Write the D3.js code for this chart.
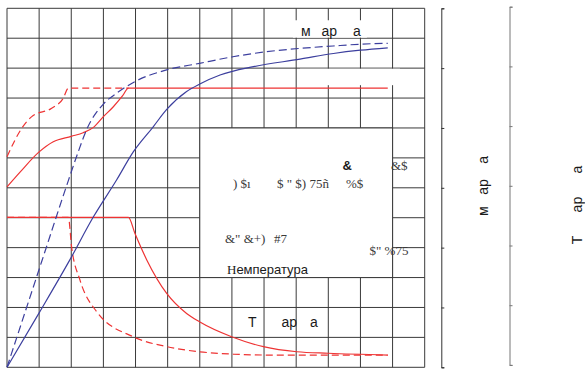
<!DOCTYPE html>
<html>
<head>
<meta charset="utf-8">
<script src="https://cdn.jsdelivr.net/npm/d3@7"></script>
<style>
  body { margin: 0; background: #fff; }
  svg { display: block; }
  text { white-space: pre; }
</style>
</head>
<body>
<div id="chart"></div>
<script>
const svgWidth = 585;
const svgHeight = 369;

// grid: 13 columns x 12 rows, values given in grid units (col, row from bottom)
const colCount = 13;
const rowCount = 12;

const redUpper = [[0, 6.03], [0.42, 6.54], [1.0, 7.2], [1.44, 7.54], [2.0, 7.72], [2.37, 7.84],
  [2.69, 8.02], [3.0, 8.38], [3.31, 8.71], [3.6, 9.08], [3.78, 9.33], [11.85, 9.33]];
const redUpperDash = [[0, 7.04], [0.46, 7.99], [0.77, 8.38], [1.39, 8.66], [1.75, 8.99], [1.91, 9.33], [3.78, 9.33]];
const blueDash = [[0, 0], [1.09, 3.57], [1.84, 6.02], [2.2, 7.15], [2.48, 7.95], [3.0, 8.8], [3.41, 9.16],
  [3.98, 9.55], [4.97, 9.94], [5.99, 10.16], [7.03, 10.38], [8.08, 10.55], [9.12, 10.66], [10.15, 10.74],
  [10.99, 10.8], [11.85, 10.83]];
const blueSolid = [[0, 0], [1, 1.82], [1.96, 3.6], [2.69, 5.03], [3.41, 6.26], [3.93, 7.2], [4.55, 8.04],
  [4.97, 8.62], [5.59, 9.22], [6, 9.47], [6.63, 9.77], [7.67, 10.05], [9.12, 10.3], [10.16, 10.49],
  [11, 10.6], [11.85, 10.68]];
const redLower = [[0, 5.01], [3.78, 5.01], [3.98, 4.48], [4.35, 3.59], [4.97, 2.47], [5.59, 1.8],
  [5.99, 1.52], [6.99, 1.02], [7.98, 0.69], [9.02, 0.52], [10.0, 0.47], [11.85, 0.41]];
const redLowerDash = [[0, 5.01], [1.91, 5.01], [2.01, 4.03], [2.27, 2.92], [2.79, 1.86], [3.93, 1.02],
  [4.97, 0.69], [5.99, 0.52], [7.04, 0.44], [8.08, 0.41], [11.85, 0.41]];

// right axes, 6 steps each, no tick labels
const axisSteps = 6;

const red = "#ee3333";
const blue = "#3c3f9e";
const gridColor = "#3a3a3a";

const svg = d3.select("#chart")
  .append("svg")
  .attr("width", svgWidth)
  .attr("height", svgHeight);

svg.append("rect").attr("width", svgWidth).attr("height", svgHeight).attr("fill", "#fff");

const x = d3.scaleLinear().domain([0, colCount]).range([7, 424.7]);
const y = d3.scaleLinear().domain([0, rowCount]).range([367.3, 8.3]);

// grid
svg.append("g")
  .selectAll("line")
  .data(d3.range(colCount + 1))
  .join("line")
  .attr("x1", d => x(d)).attr("x2", d => x(d))
  .attr("y1", y(0)).attr("y2", y(rowCount))
  .attr("stroke", gridColor).attr("stroke-width", 1);

svg.append("g")
  .selectAll("line")
  .data(d3.range(rowCount + 1))
  .join("line")
  .attr("x1", x(0)).attr("x2", x(colCount))
  .attr("y1", d => y(d)).attr("y2", d => y(d))
  .attr("stroke", gridColor).attr("stroke-width", 1);

// blank box in the middle (legend area) and hidden-label patches
svg.append("rect")
  .attr("x", x(6)).attr("y", y(8))
  .attr("width", x(12) - x(6)).attr("height", y(3) - y(8))
  .attr("fill", "#fff").attr("stroke", gridColor).attr("stroke-width", 1);

svg.append("rect")
  .attr("x", x(8.9)).attr("y", y(11.6))
  .attr("width", x(11.2) - x(8.9)).attr("height", y(11.02) - y(11.6))
  .attr("fill", "#fff");
svg.append("rect")
  .attr("x", x(9.12)).attr("y", y(9.98))
  .attr("width", x(12.23) - x(9.12)).attr("height", y(9.43) - y(9.98))
  .attr("fill", "#fff");

// curves
const line = d3.line()
  .x(d => x(d[0]))
  .y(d => y(d[1]))
  .curve(d3.curveMonotoneX);

const series = [
  {data: redLowerDash, color: red, dash: "7,4"},
  {data: redLower, color: red, dash: null},
  {data: redUpperDash, color: red, dash: "7,4"},
  {data: redUpper, color: red, dash: null},
  {data: blueDash, color: blue, dash: "8,4"},
  {data: blueSolid, color: blue, dash: null}
];

svg.append("g")
  .selectAll("path")
  .data(series)
  .join("path")
  .attr("d", d => line(d.data))
  .attr("fill", "none")
  .attr("stroke", d => d.color)
  .attr("stroke-width", 1.2)
  .attr("stroke-dasharray", d => d.dash);

// right axes
const y1 = d3.scaleLinear().domain([0, axisSteps]).range([367.3, 8.3]);
const y2 = d3.scaleLinear().domain([0, axisSteps]).range([364.9, 6.7]);

const ax1 = svg.append("g")
  .attr("transform", "translate(441.3,0)")
  .call(d3.axisRight(y1).ticks(axisSteps).tickSize(3).tickSizeOuter(3).tickFormat(""));
ax1.selectAll("path, line").attr("stroke", "#333");

const ax2 = svg.append("g")
  .attr("transform", "translate(509.5,0)")
  .call(d3.axisRight(y2).ticks(axisSteps).tickSize(3).tickSizeOuter(3).tickFormat(""));
ax2.selectAll("path, line").attr("stroke", "#777");

// texts (garbled glyphs kept as in the source)
const sans = "Liberation Sans, Arial, sans-serif";
const serif = "Liberation Serif, Times New Roman, serif";

const notes = [
  {t: "м", x: 301, y: 35.5, size: 14, font: sans},
  {t: "ар", x: 321.5, y: 35.5, size: 14, font: sans},
  {t: "а", x: 353, y: 35.5, size: 14, font: sans},
  {t: "&", x: 342.5, y: 169.5, size: 13, font: sans, weight: "bold"},
  {t: "&$", x: 391, y: 169.5, size: 13, font: serif},
  {t: ") $ı", x: 233, y: 187.5, size: 13, font: serif},
  {t: "$ \" $) 75ñ", x: 277, y: 187.5, size: 13, font: serif},
  {t: "%$", x: 346, y: 187.5, size: 13, font: serif},
  {t: "&\" &+)", x: 225, y: 242.5, size: 13, font: serif},
  {t: "#7", x: 274, y: 242.5, size: 13, font: serif},
  {t: "$\" %75", x: 369.5, y: 255, size: 13, font: serif},
  {t: "Т", x: 248, y: 327.3, size: 14, font: sans},
  {t: "ар", x: 281.5, y: 327.3, size: 14, font: sans},
  {t: "а", x: 310, y: 327.3, size: 14, font: sans}
];

svg.append("g")
  .selectAll("text")
  .data(notes)
  .join("text")
  .attr("x", d => d.x)
  .attr("y", d => d.y)
  .attr("font-family", d => d.font)
  .attr("font-size", d => d.size)
  .attr("font-weight", d => d.weight || "normal")
  .attr("fill", d => d.font === serif ? "#3a3a3a" : "#1a1a1a")
  .text(d => d.t);

const temp = svg.append("text")
  .attr("x", 227).attr("y", 273.5)
  .attr("font-family", sans).attr("font-size", 13).attr("fill", "#1a1a1a");
temp.append("tspan").attr("font-family", serif).text("H");
temp.append("tspan").text("емпература");

svg.append("text")
  .attr("transform", "translate(488,186) rotate(-90)")
  .attr("text-anchor", "middle")
  .attr("font-family", sans).attr("font-size", 14).attr("fill", "#1a1a1a")
  .text("м   ар    а");

svg.append("text")
  .attr("transform", "translate(582,205) rotate(-90)")
  .attr("text-anchor", "middle")
  .attr("font-family", sans).attr("font-size", 14).attr("fill", "#1a1a1a")
  .text("Т      ар      а");
</script>
</body>
</html>
